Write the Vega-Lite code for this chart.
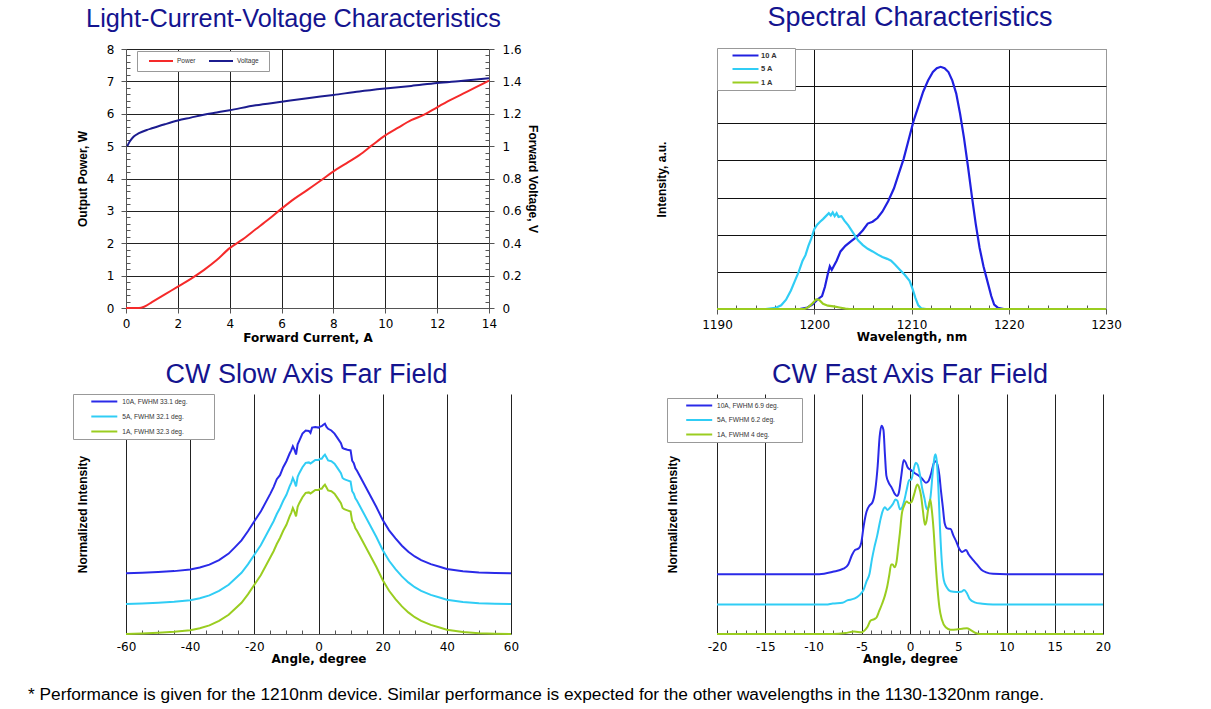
{
"$schema": "https://vega.github.io/schema/vega-lite/v6.json",
"padding": {"left": 28, "top": 3, "right": 10, "bottom": 8},
"background": "white",
"title": {"text": "* Performance is given for the 1210nm device. Similar performance is expected for the other wavelengths in the 1130-1320nm range.", "orient": "bottom", "anchor": "start", "frame": "group", "dx": -98, "offset": 22, "font": "Liberation Sans", "fontSize": 17.3, "fontWeight": "normal", "color": "#000"},
"config": {
  "view": {"stroke": null},
  "font": "Liberation Sans",
  "title": {"font": "Liberation Sans", "fontSize": 27, "fontWeight": "normal", "color": "#14148f"},
  "axis": {"labelFont": "DejaVu Sans", "labelFontSize": 12, "labelColor": "#000", "titleFont": "DejaVu Sans", "titleFontSize": 12, "titleFontWeight": "bold", "titleColor": "#000", "domainColor": "#555", "tickColor": "#555", "gridColor": "#222", "gridOpacity": 1, "gridWidth": 1, "labelFlush": false, "labelOverlap": false},
  "axisY": {"titleFont": "Liberation Sans"},
  "legend": {"title": null, "orient": "none", "fillColor": "white", "strokeColor": "#999", "labelFont": "Liberation Sans", "labelColor": "#333", "symbolType": "M-4,0H4", "symbolStrokeWidth": 2}
},
"datasets": {
  "power": [
    {"I":0,"P":0},{"I":0.5,"P":0},{"I":0.7,"P":0.04},{"I":1,"P":0.18},{"I":1.5,"P":0.42},{"I":2,"P":0.66},{"I":2.5,"P":0.9},{"I":3,"P":1.17},{"I":3.5,"P":1.48},{"I":4,"P":1.85},{"I":4.5,"P":2.12},{"I":5,"P":2.43},{"I":5.5,"P":2.74},{"I":6,"P":3.07},{"I":6.5,"P":3.38},{"I":7,"P":3.65},{"I":7.5,"P":3.93},{"I":8,"P":4.22},{"I":8.5,"P":4.47},{"I":9,"P":4.72},{"I":9.5,"P":5.03},{"I":10,"P":5.33},{"I":10.5,"P":5.57},{"I":11,"P":5.8},{"I":11.5,"P":5.97},{"I":12,"P":6.2},{"I":12.5,"P":6.42},{"I":13,"P":6.62},{"I":13.5,"P":6.82},{"I":14,"P":7.02}
  ],
  "voltage": [
    {"I":0.05,"V":1.0},{"I":0.15,"V":1.03},{"I":0.3,"V":1.06},{"I":0.5,"V":1.08},{"I":0.8,"V":1.1},{"I":1,"V":1.11},{"I":1.5,"V":1.135},{"I":2,"V":1.158},{"I":2.5,"V":1.176},{"I":3,"V":1.194},{"I":3.5,"V":1.208},{"I":4,"V":1.222},{"I":5,"V":1.252},{"I":6,"V":1.274},{"I":7,"V":1.296},{"I":8,"V":1.316},{"I":9,"V":1.338},{"I":10,"V":1.356},{"I":11,"V":1.372},{"I":12,"V":1.39},{"I":13,"V":1.404},{"I":14,"V":1.42}
  ],
  "spectrum": [
    {"w":1190,"i":0,"s":"10 A"},{"w":1198.5,"i":0,"s":"10 A"},{"w":1199.3,"i":0.04,"s":"10 A"},{"w":1199.8,"i":0.12,"s":"10 A"},{"w":1200.4,"i":0.27,"s":"10 A"},{"w":1200.8,"i":0.35,"s":"10 A"},{"w":1201.1,"i":0.6,"s":"10 A"},{"w":1201.4,"i":0.95,"s":"10 A"},{"w":1201.6,"i":1.15,"s":"10 A"},{"w":1201.8,"i":1.05,"s":"10 A"},{"w":1202.0,"i":1.15,"s":"10 A"},{"w":1202.3,"i":1.3,"s":"10 A"},{"w":1202.7,"i":1.55,"s":"10 A"},{"w":1203.2,"i":1.7,"s":"10 A"},{"w":1203.8,"i":1.83,"s":"10 A"},{"w":1204.4,"i":1.95,"s":"10 A"},{"w":1205.0,"i":2.12,"s":"10 A"},{"w":1205.5,"i":2.3,"s":"10 A"},{"w":1206.0,"i":2.35,"s":"10 A"},{"w":1206.5,"i":2.45,"s":"10 A"},{"w":1207.0,"i":2.62,"s":"10 A"},{"w":1207.6,"i":2.9,"s":"10 A"},{"w":1208.2,"i":3.25,"s":"10 A"},{"w":1208.7,"i":3.65,"s":"10 A"},{"w":1209.2,"i":4.05,"s":"10 A"},{"w":1209.7,"i":4.55,"s":"10 A"},{"w":1210.2,"i":5.05,"s":"10 A"},{"w":1210.7,"i":5.45,"s":"10 A"},{"w":1211.2,"i":5.85,"s":"10 A"},{"w":1211.7,"i":6.15,"s":"10 A"},{"w":1212.2,"i":6.38,"s":"10 A"},{"w":1212.6,"i":6.48,"s":"10 A"},{"w":1213.0,"i":6.52,"s":"10 A"},{"w":1213.4,"i":6.48,"s":"10 A"},{"w":1213.8,"i":6.38,"s":"10 A"},{"w":1214.2,"i":6.15,"s":"10 A"},{"w":1214.6,"i":5.8,"s":"10 A"},{"w":1215.0,"i":5.25,"s":"10 A"},{"w":1215.4,"i":4.6,"s":"10 A"},{"w":1215.8,"i":3.85,"s":"10 A"},{"w":1216.2,"i":3.05,"s":"10 A"},{"w":1216.6,"i":2.3,"s":"10 A"},{"w":1217.0,"i":1.65,"s":"10 A"},{"w":1217.4,"i":1.15,"s":"10 A"},{"w":1217.8,"i":0.75,"s":"10 A"},{"w":1218.2,"i":0.35,"s":"10 A"},{"w":1218.5,"i":0.12,"s":"10 A"},{"w":1218.9,"i":0.03,"s":"10 A"},{"w":1219.5,"i":0,"s":"10 A"},{"w":1230,"i":0,"s":"10 A"},
    {"w":1190,"i":0,"s":"5 A"},{"w":1195,"i":0,"s":"5 A"},{"w":1196,"i":0.03,"s":"5 A"},{"w":1196.6,"i":0.1,"s":"5 A"},{"w":1197.1,"i":0.25,"s":"5 A"},{"w":1197.6,"i":0.5,"s":"5 A"},{"w":1198.0,"i":0.75,"s":"5 A"},{"w":1198.4,"i":1.0,"s":"5 A"},{"w":1198.8,"i":1.3,"s":"5 A"},{"w":1199.1,"i":1.45,"s":"5 A"},{"w":1199.4,"i":1.7,"s":"5 A"},{"w":1199.7,"i":1.9,"s":"5 A"},{"w":1200.0,"i":2.15,"s":"5 A"},{"w":1200.3,"i":2.27,"s":"5 A"},{"w":1200.6,"i":2.35,"s":"5 A"},{"w":1200.9,"i":2.42,"s":"5 A"},{"w":1201.2,"i":2.5,"s":"5 A"},{"w":1201.5,"i":2.58,"s":"5 A"},{"w":1201.7,"i":2.52,"s":"5 A"},{"w":1201.9,"i":2.6,"s":"5 A"},{"w":1202.1,"i":2.5,"s":"5 A"},{"w":1202.3,"i":2.58,"s":"5 A"},{"w":1202.5,"i":2.48,"s":"5 A"},{"w":1202.8,"i":2.5,"s":"5 A"},{"w":1203.1,"i":2.38,"s":"5 A"},{"w":1203.5,"i":2.25,"s":"5 A"},{"w":1204.0,"i":2.05,"s":"5 A"},{"w":1204.5,"i":1.85,"s":"5 A"},{"w":1205.0,"i":1.72,"s":"5 A"},{"w":1205.5,"i":1.62,"s":"5 A"},{"w":1206.0,"i":1.55,"s":"5 A"},{"w":1206.5,"i":1.47,"s":"5 A"},{"w":1207.0,"i":1.4,"s":"5 A"},{"w":1207.5,"i":1.35,"s":"5 A"},{"w":1207.9,"i":1.3,"s":"5 A"},{"w":1208.3,"i":1.2,"s":"5 A"},{"w":1208.8,"i":1.06,"s":"5 A"},{"w":1209.3,"i":0.92,"s":"5 A"},{"w":1209.8,"i":0.76,"s":"5 A"},{"w":1210.1,"i":0.55,"s":"5 A"},{"w":1210.4,"i":0.3,"s":"5 A"},{"w":1210.7,"i":0.1,"s":"5 A"},{"w":1211.0,"i":0.02,"s":"5 A"},{"w":1211.5,"i":0,"s":"5 A"},{"w":1230,"i":0,"s":"5 A"},
    {"w":1190,"i":0,"s":"1 A"},{"w":1199,"i":0,"s":"1 A"},{"w":1199.4,"i":0.05,"s":"1 A"},{"w":1199.8,"i":0.15,"s":"1 A"},{"w":1200.2,"i":0.26,"s":"1 A"},{"w":1200.5,"i":0.25,"s":"1 A"},{"w":1200.9,"i":0.14,"s":"1 A"},{"w":1201.4,"i":0.09,"s":"1 A"},{"w":1202.0,"i":0.07,"s":"1 A"},{"w":1202.6,"i":0.04,"s":"1 A"},{"w":1203.2,"i":0.01,"s":"1 A"},{"w":1203.6,"i":0,"s":"1 A"},{"w":1230,"i":0,"s":"1 A"}
  ],
  "slow": [
    {"a":-60,"v":0.253,"s":"10A, FWHM 33.1 deg."},{"a":-55,"v":0.255,"s":"10A, FWHM 33.1 deg."},{"a":-50,"v":0.258,"s":"10A, FWHM 33.1 deg."},{"a":-45,"v":0.262,"s":"10A, FWHM 33.1 deg."},{"a":-40,"v":0.269,"s":"10A, FWHM 33.1 deg."},{"a":-37,"v":0.277,"s":"10A, FWHM 33.1 deg."},{"a":-34,"v":0.289,"s":"10A, FWHM 33.1 deg."},{"a":-31,"v":0.308,"s":"10A, FWHM 33.1 deg."},{"a":-28,"v":0.335,"s":"10A, FWHM 33.1 deg."},{"a":-26,"v":0.362,"s":"10A, FWHM 33.1 deg."},{"a":-24,"v":0.39,"s":"10A, FWHM 33.1 deg."},{"a":-22,"v":0.428,"s":"10A, FWHM 33.1 deg."},{"a":-20,"v":0.47,"s":"10A, FWHM 33.1 deg."},{"a":-18,"v":0.51,"s":"10A, FWHM 33.1 deg."},{"a":-16,"v":0.56,"s":"10A, FWHM 33.1 deg."},{"a":-15,"v":0.585,"s":"10A, FWHM 33.1 deg."},{"a":-14,"v":0.612,"s":"10A, FWHM 33.1 deg."},{"a":-13,"v":0.645,"s":"10A, FWHM 33.1 deg."},{"a":-12,"v":0.662,"s":"10A, FWHM 33.1 deg."},{"a":-11,"v":0.695,"s":"10A, FWHM 33.1 deg."},{"a":-10,"v":0.72,"s":"10A, FWHM 33.1 deg."},{"a":-9,"v":0.752,"s":"10A, FWHM 33.1 deg."},{"a":-8.5,"v":0.765,"s":"10A, FWHM 33.1 deg."},{"a":-8,"v":0.782,"s":"10A, FWHM 33.1 deg."},{"a":-7.5,"v":0.768,"s":"10A, FWHM 33.1 deg."},{"a":-7,"v":0.748,"s":"10A, FWHM 33.1 deg."},{"a":-6.5,"v":0.79,"s":"10A, FWHM 33.1 deg."},{"a":-6,"v":0.805,"s":"10A, FWHM 33.1 deg."},{"a":-5,"v":0.835,"s":"10A, FWHM 33.1 deg."},{"a":-4,"v":0.848,"s":"10A, FWHM 33.1 deg."},{"a":-3,"v":0.846,"s":"10A, FWHM 33.1 deg."},{"a":-2.5,"v":0.838,"s":"10A, FWHM 33.1 deg."},{"a":-2,"v":0.86,"s":"10A, FWHM 33.1 deg."},{"a":-1,"v":0.862,"s":"10A, FWHM 33.1 deg."},{"a":0,"v":0.86,"s":"10A, FWHM 33.1 deg."},{"a":0.5,"v":0.864,"s":"10A, FWHM 33.1 deg."},{"a":1,"v":0.866,"s":"10A, FWHM 33.1 deg."},{"a":1.5,"v":0.872,"s":"10A, FWHM 33.1 deg."},{"a":2,"v":0.876,"s":"10A, FWHM 33.1 deg."},{"a":2.5,"v":0.863,"s":"10A, FWHM 33.1 deg."},{"a":3,"v":0.855,"s":"10A, FWHM 33.1 deg."},{"a":4,"v":0.848,"s":"10A, FWHM 33.1 deg."},{"a":5,"v":0.835,"s":"10A, FWHM 33.1 deg."},{"a":6,"v":0.815,"s":"10A, FWHM 33.1 deg."},{"a":7,"v":0.795,"s":"10A, FWHM 33.1 deg."},{"a":7.5,"v":0.775,"s":"10A, FWHM 33.1 deg."},{"a":8,"v":0.772,"s":"10A, FWHM 33.1 deg."},{"a":9,"v":0.768,"s":"10A, FWHM 33.1 deg."},{"a":10,"v":0.765,"s":"10A, FWHM 33.1 deg."},{"a":10.5,"v":0.722,"s":"10A, FWHM 33.1 deg."},{"a":11,"v":0.712,"s":"10A, FWHM 33.1 deg."},{"a":11.5,"v":0.69,"s":"10A, FWHM 33.1 deg."},{"a":12,"v":0.68,"s":"10A, FWHM 33.1 deg."},{"a":13,"v":0.655,"s":"10A, FWHM 33.1 deg."},{"a":14,"v":0.63,"s":"10A, FWHM 33.1 deg."},{"a":15,"v":0.605,"s":"10A, FWHM 33.1 deg."},{"a":16,"v":0.58,"s":"10A, FWHM 33.1 deg."},{"a":18,"v":0.53,"s":"10A, FWHM 33.1 deg."},{"a":20,"v":0.476,"s":"10A, FWHM 33.1 deg."},{"a":22,"v":0.432,"s":"10A, FWHM 33.1 deg."},{"a":24,"v":0.398,"s":"10A, FWHM 33.1 deg."},{"a":26,"v":0.368,"s":"10A, FWHM 33.1 deg."},{"a":28,"v":0.343,"s":"10A, FWHM 33.1 deg."},{"a":30,"v":0.323,"s":"10A, FWHM 33.1 deg."},{"a":32,"v":0.308,"s":"10A, FWHM 33.1 deg."},{"a":35,"v":0.291,"s":"10A, FWHM 33.1 deg."},{"a":38,"v":0.279,"s":"10A, FWHM 33.1 deg."},{"a":40,"v":0.271,"s":"10A, FWHM 33.1 deg."},{"a":45,"v":0.261,"s":"10A, FWHM 33.1 deg."},{"a":50,"v":0.256,"s":"10A, FWHM 33.1 deg."},{"a":55,"v":0.254,"s":"10A, FWHM 33.1 deg."},{"a":60,"v":0.253,"s":"10A, FWHM 33.1 deg."},
    {"a":-60,"v":0.125,"s":"5A, FWHM 32.1 deg."},{"a":-55,"v":0.127,"s":"5A, FWHM 32.1 deg."},{"a":-50,"v":0.13,"s":"5A, FWHM 32.1 deg."},{"a":-45,"v":0.134,"s":"5A, FWHM 32.1 deg."},{"a":-40,"v":0.141,"s":"5A, FWHM 32.1 deg."},{"a":-37,"v":0.149,"s":"5A, FWHM 32.1 deg."},{"a":-34,"v":0.161,"s":"5A, FWHM 32.1 deg."},{"a":-31,"v":0.18,"s":"5A, FWHM 32.1 deg."},{"a":-28,"v":0.205,"s":"5A, FWHM 32.1 deg."},{"a":-26,"v":0.23,"s":"5A, FWHM 32.1 deg."},{"a":-24,"v":0.255,"s":"5A, FWHM 32.1 deg."},{"a":-22,"v":0.29,"s":"5A, FWHM 32.1 deg."},{"a":-20,"v":0.33,"s":"5A, FWHM 32.1 deg."},{"a":-18,"v":0.37,"s":"5A, FWHM 32.1 deg."},{"a":-16,"v":0.42,"s":"5A, FWHM 32.1 deg."},{"a":-15,"v":0.445,"s":"5A, FWHM 32.1 deg."},{"a":-14,"v":0.47,"s":"5A, FWHM 32.1 deg."},{"a":-13,"v":0.5,"s":"5A, FWHM 32.1 deg."},{"a":-12,"v":0.525,"s":"5A, FWHM 32.1 deg."},{"a":-11,"v":0.555,"s":"5A, FWHM 32.1 deg."},{"a":-10,"v":0.58,"s":"5A, FWHM 32.1 deg."},{"a":-9,"v":0.615,"s":"5A, FWHM 32.1 deg."},{"a":-8.5,"v":0.63,"s":"5A, FWHM 32.1 deg."},{"a":-8,"v":0.65,"s":"5A, FWHM 32.1 deg."},{"a":-7.5,"v":0.635,"s":"5A, FWHM 32.1 deg."},{"a":-7,"v":0.615,"s":"5A, FWHM 32.1 deg."},{"a":-6.5,"v":0.655,"s":"5A, FWHM 32.1 deg."},{"a":-6,"v":0.67,"s":"5A, FWHM 32.1 deg."},{"a":-5,"v":0.695,"s":"5A, FWHM 32.1 deg."},{"a":-4,"v":0.713,"s":"5A, FWHM 32.1 deg."},{"a":-3,"v":0.715,"s":"5A, FWHM 32.1 deg."},{"a":-2.5,"v":0.71,"s":"5A, FWHM 32.1 deg."},{"a":-2,"v":0.715,"s":"5A, FWHM 32.1 deg."},{"a":-1,"v":0.725,"s":"5A, FWHM 32.1 deg."},{"a":0,"v":0.725,"s":"5A, FWHM 32.1 deg."},{"a":0.5,"v":0.73,"s":"5A, FWHM 32.1 deg."},{"a":1,"v":0.73,"s":"5A, FWHM 32.1 deg."},{"a":1.5,"v":0.74,"s":"5A, FWHM 32.1 deg."},{"a":2,"v":0.747,"s":"5A, FWHM 32.1 deg."},{"a":2.5,"v":0.735,"s":"5A, FWHM 32.1 deg."},{"a":3,"v":0.723,"s":"5A, FWHM 32.1 deg."},{"a":4,"v":0.72,"s":"5A, FWHM 32.1 deg."},{"a":5,"v":0.71,"s":"5A, FWHM 32.1 deg."},{"a":6,"v":0.69,"s":"5A, FWHM 32.1 deg."},{"a":7,"v":0.67,"s":"5A, FWHM 32.1 deg."},{"a":7.5,"v":0.65,"s":"5A, FWHM 32.1 deg."},{"a":8,"v":0.645,"s":"5A, FWHM 32.1 deg."},{"a":9,"v":0.64,"s":"5A, FWHM 32.1 deg."},{"a":10,"v":0.635,"s":"5A, FWHM 32.1 deg."},{"a":10.5,"v":0.595,"s":"5A, FWHM 32.1 deg."},{"a":11,"v":0.585,"s":"5A, FWHM 32.1 deg."},{"a":11.5,"v":0.565,"s":"5A, FWHM 32.1 deg."},{"a":12,"v":0.555,"s":"5A, FWHM 32.1 deg."},{"a":13,"v":0.53,"s":"5A, FWHM 32.1 deg."},{"a":14,"v":0.505,"s":"5A, FWHM 32.1 deg."},{"a":15,"v":0.48,"s":"5A, FWHM 32.1 deg."},{"a":16,"v":0.455,"s":"5A, FWHM 32.1 deg."},{"a":18,"v":0.405,"s":"5A, FWHM 32.1 deg."},{"a":20,"v":0.35,"s":"5A, FWHM 32.1 deg."},{"a":22,"v":0.305,"s":"5A, FWHM 32.1 deg."},{"a":24,"v":0.27,"s":"5A, FWHM 32.1 deg."},{"a":26,"v":0.24,"s":"5A, FWHM 32.1 deg."},{"a":28,"v":0.215,"s":"5A, FWHM 32.1 deg."},{"a":30,"v":0.195,"s":"5A, FWHM 32.1 deg."},{"a":32,"v":0.18,"s":"5A, FWHM 32.1 deg."},{"a":35,"v":0.163,"s":"5A, FWHM 32.1 deg."},{"a":38,"v":0.151,"s":"5A, FWHM 32.1 deg."},{"a":40,"v":0.143,"s":"5A, FWHM 32.1 deg."},{"a":45,"v":0.133,"s":"5A, FWHM 32.1 deg."},{"a":50,"v":0.128,"s":"5A, FWHM 32.1 deg."},{"a":55,"v":0.126,"s":"5A, FWHM 32.1 deg."},{"a":60,"v":0.125,"s":"5A, FWHM 32.1 deg."},
    {"a":-60,"v":0,"s":"1A, FWHM 32.3 deg."},{"a":-55,"v":0.002,"s":"1A, FWHM 32.3 deg."},{"a":-50,"v":0.005,"s":"1A, FWHM 32.3 deg."},{"a":-45,"v":0.009,"s":"1A, FWHM 32.3 deg."},{"a":-40,"v":0.016,"s":"1A, FWHM 32.3 deg."},{"a":-37,"v":0.024,"s":"1A, FWHM 32.3 deg."},{"a":-34,"v":0.036,"s":"1A, FWHM 32.3 deg."},{"a":-31,"v":0.055,"s":"1A, FWHM 32.3 deg."},{"a":-28,"v":0.08,"s":"1A, FWHM 32.3 deg."},{"a":-26,"v":0.105,"s":"1A, FWHM 32.3 deg."},{"a":-24,"v":0.13,"s":"1A, FWHM 32.3 deg."},{"a":-22,"v":0.165,"s":"1A, FWHM 32.3 deg."},{"a":-20,"v":0.205,"s":"1A, FWHM 32.3 deg."},{"a":-18,"v":0.245,"s":"1A, FWHM 32.3 deg."},{"a":-16,"v":0.295,"s":"1A, FWHM 32.3 deg."},{"a":-15,"v":0.32,"s":"1A, FWHM 32.3 deg."},{"a":-14,"v":0.345,"s":"1A, FWHM 32.3 deg."},{"a":-13,"v":0.375,"s":"1A, FWHM 32.3 deg."},{"a":-12,"v":0.4,"s":"1A, FWHM 32.3 deg."},{"a":-11,"v":0.43,"s":"1A, FWHM 32.3 deg."},{"a":-10,"v":0.455,"s":"1A, FWHM 32.3 deg."},{"a":-9,"v":0.49,"s":"1A, FWHM 32.3 deg."},{"a":-8.5,"v":0.505,"s":"1A, FWHM 32.3 deg."},{"a":-8,"v":0.525,"s":"1A, FWHM 32.3 deg."},{"a":-7.5,"v":0.51,"s":"1A, FWHM 32.3 deg."},{"a":-7,"v":0.49,"s":"1A, FWHM 32.3 deg."},{"a":-6.5,"v":0.53,"s":"1A, FWHM 32.3 deg."},{"a":-6,"v":0.545,"s":"1A, FWHM 32.3 deg."},{"a":-5,"v":0.57,"s":"1A, FWHM 32.3 deg."},{"a":-4,"v":0.588,"s":"1A, FWHM 32.3 deg."},{"a":-3,"v":0.59,"s":"1A, FWHM 32.3 deg."},{"a":-2.5,"v":0.585,"s":"1A, FWHM 32.3 deg."},{"a":-2,"v":0.59,"s":"1A, FWHM 32.3 deg."},{"a":-1,"v":0.6,"s":"1A, FWHM 32.3 deg."},{"a":0,"v":0.6,"s":"1A, FWHM 32.3 deg."},{"a":0.5,"v":0.605,"s":"1A, FWHM 32.3 deg."},{"a":1,"v":0.605,"s":"1A, FWHM 32.3 deg."},{"a":1.5,"v":0.615,"s":"1A, FWHM 32.3 deg."},{"a":2,"v":0.622,"s":"1A, FWHM 32.3 deg."},{"a":2.5,"v":0.61,"s":"1A, FWHM 32.3 deg."},{"a":3,"v":0.598,"s":"1A, FWHM 32.3 deg."},{"a":4,"v":0.595,"s":"1A, FWHM 32.3 deg."},{"a":5,"v":0.585,"s":"1A, FWHM 32.3 deg."},{"a":6,"v":0.565,"s":"1A, FWHM 32.3 deg."},{"a":7,"v":0.545,"s":"1A, FWHM 32.3 deg."},{"a":7.5,"v":0.525,"s":"1A, FWHM 32.3 deg."},{"a":8,"v":0.52,"s":"1A, FWHM 32.3 deg."},{"a":9,"v":0.515,"s":"1A, FWHM 32.3 deg."},{"a":10,"v":0.51,"s":"1A, FWHM 32.3 deg."},{"a":10.5,"v":0.47,"s":"1A, FWHM 32.3 deg."},{"a":11,"v":0.46,"s":"1A, FWHM 32.3 deg."},{"a":11.5,"v":0.44,"s":"1A, FWHM 32.3 deg."},{"a":12,"v":0.43,"s":"1A, FWHM 32.3 deg."},{"a":13,"v":0.405,"s":"1A, FWHM 32.3 deg."},{"a":14,"v":0.38,"s":"1A, FWHM 32.3 deg."},{"a":15,"v":0.355,"s":"1A, FWHM 32.3 deg."},{"a":16,"v":0.33,"s":"1A, FWHM 32.3 deg."},{"a":18,"v":0.28,"s":"1A, FWHM 32.3 deg."},{"a":20,"v":0.225,"s":"1A, FWHM 32.3 deg."},{"a":22,"v":0.18,"s":"1A, FWHM 32.3 deg."},{"a":24,"v":0.145,"s":"1A, FWHM 32.3 deg."},{"a":26,"v":0.115,"s":"1A, FWHM 32.3 deg."},{"a":28,"v":0.09,"s":"1A, FWHM 32.3 deg."},{"a":30,"v":0.07,"s":"1A, FWHM 32.3 deg."},{"a":32,"v":0.055,"s":"1A, FWHM 32.3 deg."},{"a":35,"v":0.038,"s":"1A, FWHM 32.3 deg."},{"a":38,"v":0.026,"s":"1A, FWHM 32.3 deg."},{"a":40,"v":0.018,"s":"1A, FWHM 32.3 deg."},{"a":45,"v":0.008,"s":"1A, FWHM 32.3 deg."},{"a":50,"v":0.003,"s":"1A, FWHM 32.3 deg."},{"a":55,"v":0.001,"s":"1A, FWHM 32.3 deg."},{"a":60,"v":0,"s":"1A, FWHM 32.3 deg."}
  ],
  "fast": [
    {"a":-20,"v":0.249,"s":"10A, FWHM 6.9 deg."},{"a":-9.4,"v":0.249,"s":"10A, FWHM 6.9 deg."},{"a":-8,"v":0.259,"s":"10A, FWHM 6.9 deg."},{"a":-6.9,"v":0.272,"s":"10A, FWHM 6.9 deg."},{"a":-6.4,"v":0.29,"s":"10A, FWHM 6.9 deg."},{"a":-6.0,"v":0.33,"s":"10A, FWHM 6.9 deg."},{"a":-5.7,"v":0.35,"s":"10A, FWHM 6.9 deg."},{"a":-5.3,"v":0.357,"s":"10A, FWHM 6.9 deg."},{"a":-5.05,"v":0.38,"s":"10A, FWHM 6.9 deg."},{"a":-4.8,"v":0.45,"s":"10A, FWHM 6.9 deg."},{"a":-4.5,"v":0.51,"s":"10A, FWHM 6.9 deg."},{"a":-4.2,"v":0.535,"s":"10A, FWHM 6.9 deg."},{"a":-3.9,"v":0.548,"s":"10A, FWHM 6.9 deg."},{"a":-3.6,"v":0.6,"s":"10A, FWHM 6.9 deg."},{"a":-3.35,"v":0.7,"s":"10A, FWHM 6.9 deg."},{"a":-3.15,"v":0.82,"s":"10A, FWHM 6.9 deg."},{"a":-2.95,"v":0.868,"s":"10A, FWHM 6.9 deg."},{"a":-2.75,"v":0.85,"s":"10A, FWHM 6.9 deg."},{"a":-2.6,"v":0.75,"s":"10A, FWHM 6.9 deg."},{"a":-2.45,"v":0.66,"s":"10A, FWHM 6.9 deg."},{"a":-2.2,"v":0.63,"s":"10A, FWHM 6.9 deg."},{"a":-1.9,"v":0.61,"s":"10A, FWHM 6.9 deg."},{"a":-1.6,"v":0.585,"s":"10A, FWHM 6.9 deg."},{"a":-1.35,"v":0.575,"s":"10A, FWHM 6.9 deg."},{"a":-1.15,"v":0.59,"s":"10A, FWHM 6.9 deg."},{"a":-0.9,"v":0.66,"s":"10A, FWHM 6.9 deg."},{"a":-0.65,"v":0.725,"s":"10A, FWHM 6.9 deg."},{"a":-0.45,"v":0.715,"s":"10A, FWHM 6.9 deg."},{"a":-0.25,"v":0.695,"s":"10A, FWHM 6.9 deg."},{"a":0.1,"v":0.683,"s":"10A, FWHM 6.9 deg."},{"a":0.5,"v":0.67,"s":"10A, FWHM 6.9 deg."},{"a":0.95,"v":0.658,"s":"10A, FWHM 6.9 deg."},{"a":1.3,"v":0.645,"s":"10A, FWHM 6.9 deg."},{"a":1.65,"v":0.63,"s":"10A, FWHM 6.9 deg."},{"a":1.95,"v":0.64,"s":"10A, FWHM 6.9 deg."},{"a":2.2,"v":0.67,"s":"10A, FWHM 6.9 deg."},{"a":2.45,"v":0.71,"s":"10A, FWHM 6.9 deg."},{"a":2.65,"v":0.72,"s":"10A, FWHM 6.9 deg."},{"a":2.85,"v":0.705,"s":"10A, FWHM 6.9 deg."},{"a":3.05,"v":0.66,"s":"10A, FWHM 6.9 deg."},{"a":3.2,"v":0.6,"s":"10A, FWHM 6.9 deg."},{"a":3.4,"v":0.53,"s":"10A, FWHM 6.9 deg."},{"a":3.6,"v":0.46,"s":"10A, FWHM 6.9 deg."},{"a":3.85,"v":0.44,"s":"10A, FWHM 6.9 deg."},{"a":4.2,"v":0.438,"s":"10A, FWHM 6.9 deg."},{"a":4.5,"v":0.41,"s":"10A, FWHM 6.9 deg."},{"a":4.8,"v":0.385,"s":"10A, FWHM 6.9 deg."},{"a":5.1,"v":0.355,"s":"10A, FWHM 6.9 deg."},{"a":5.4,"v":0.342,"s":"10A, FWHM 6.9 deg."},{"a":5.8,"v":0.35,"s":"10A, FWHM 6.9 deg."},{"a":6.1,"v":0.33,"s":"10A, FWHM 6.9 deg."},{"a":6.5,"v":0.31,"s":"10A, FWHM 6.9 deg."},{"a":7.0,"v":0.287,"s":"10A, FWHM 6.9 deg."},{"a":7.4,"v":0.268,"s":"10A, FWHM 6.9 deg."},{"a":7.9,"v":0.257,"s":"10A, FWHM 6.9 deg."},{"a":8.6,"v":0.251,"s":"10A, FWHM 6.9 deg."},{"a":10,"v":0.249,"s":"10A, FWHM 6.9 deg."},{"a":20,"v":0.249,"s":"10A, FWHM 6.9 deg."},
    {"a":-20,"v":0.123,"s":"5A, FWHM 6.2 deg."},{"a":-8.7,"v":0.123,"s":"5A, FWHM 6.2 deg."},{"a":-8,"v":0.127,"s":"5A, FWHM 6.2 deg."},{"a":-7,"v":0.13,"s":"5A, FWHM 6.2 deg."},{"a":-6.5,"v":0.14,"s":"5A, FWHM 6.2 deg."},{"a":-5.8,"v":0.147,"s":"5A, FWHM 6.2 deg."},{"a":-5.2,"v":0.163,"s":"5A, FWHM 6.2 deg."},{"a":-4.8,"v":0.185,"s":"5A, FWHM 6.2 deg."},{"a":-4.5,"v":0.22,"s":"5A, FWHM 6.2 deg."},{"a":-4.2,"v":0.25,"s":"5A, FWHM 6.2 deg."},{"a":-3.95,"v":0.31,"s":"5A, FWHM 6.2 deg."},{"a":-3.7,"v":0.36,"s":"5A, FWHM 6.2 deg."},{"a":-3.4,"v":0.41,"s":"5A, FWHM 6.2 deg."},{"a":-3.1,"v":0.47,"s":"5A, FWHM 6.2 deg."},{"a":-2.85,"v":0.51,"s":"5A, FWHM 6.2 deg."},{"a":-2.6,"v":0.528,"s":"5A, FWHM 6.2 deg."},{"a":-2.35,"v":0.517,"s":"5A, FWHM 6.2 deg."},{"a":-2.1,"v":0.525,"s":"5A, FWHM 6.2 deg."},{"a":-1.8,"v":0.54,"s":"5A, FWHM 6.2 deg."},{"a":-1.5,"v":0.56,"s":"5A, FWHM 6.2 deg."},{"a":-1.3,"v":0.555,"s":"5A, FWHM 6.2 deg."},{"a":-1.05,"v":0.52,"s":"5A, FWHM 6.2 deg."},{"a":-0.85,"v":0.525,"s":"5A, FWHM 6.2 deg."},{"a":-0.6,"v":0.555,"s":"5A, FWHM 6.2 deg."},{"a":-0.35,"v":0.6,"s":"5A, FWHM 6.2 deg."},{"a":-0.1,"v":0.64,"s":"5A, FWHM 6.2 deg."},{"a":0.15,"v":0.645,"s":"5A, FWHM 6.2 deg."},{"a":0.35,"v":0.68,"s":"5A, FWHM 6.2 deg."},{"a":0.6,"v":0.714,"s":"5A, FWHM 6.2 deg."},{"a":0.8,"v":0.705,"s":"5A, FWHM 6.2 deg."},{"a":1.0,"v":0.67,"s":"5A, FWHM 6.2 deg."},{"a":1.25,"v":0.61,"s":"5A, FWHM 6.2 deg."},{"a":1.5,"v":0.565,"s":"5A, FWHM 6.2 deg."},{"a":1.75,"v":0.52,"s":"5A, FWHM 6.2 deg."},{"a":1.95,"v":0.53,"s":"5A, FWHM 6.2 deg."},{"a":2.15,"v":0.58,"s":"5A, FWHM 6.2 deg."},{"a":2.35,"v":0.67,"s":"5A, FWHM 6.2 deg."},{"a":2.55,"v":0.74,"s":"5A, FWHM 6.2 deg."},{"a":2.65,"v":0.749,"s":"5A, FWHM 6.2 deg."},{"a":2.8,"v":0.71,"s":"5A, FWHM 6.2 deg."},{"a":2.95,"v":0.6,"s":"5A, FWHM 6.2 deg."},{"a":3.1,"v":0.45,"s":"5A, FWHM 6.2 deg."},{"a":3.3,"v":0.3,"s":"5A, FWHM 6.2 deg."},{"a":3.5,"v":0.225,"s":"5A, FWHM 6.2 deg."},{"a":3.8,"v":0.195,"s":"5A, FWHM 6.2 deg."},{"a":4.2,"v":0.178,"s":"5A, FWHM 6.2 deg."},{"a":4.8,"v":0.175,"s":"5A, FWHM 6.2 deg."},{"a":5.3,"v":0.176,"s":"5A, FWHM 6.2 deg."},{"a":5.6,"v":0.183,"s":"5A, FWHM 6.2 deg."},{"a":5.9,"v":0.17,"s":"5A, FWHM 6.2 deg."},{"a":6.2,"v":0.145,"s":"5A, FWHM 6.2 deg."},{"a":6.7,"v":0.132,"s":"5A, FWHM 6.2 deg."},{"a":7.5,"v":0.126,"s":"5A, FWHM 6.2 deg."},{"a":8.6,"v":0.123,"s":"5A, FWHM 6.2 deg."},{"a":20,"v":0.123,"s":"5A, FWHM 6.2 deg."},
    {"a":-20,"v":0,"s":"1A, FWHM 4 deg."},{"a":-8,"v":0,"s":"1A, FWHM 4 deg."},{"a":-6.7,"v":0.004,"s":"1A, FWHM 4 deg."},{"a":-5.8,"v":0.01,"s":"1A, FWHM 4 deg."},{"a":-5.0,"v":0.007,"s":"1A, FWHM 4 deg."},{"a":-4.7,"v":0.015,"s":"1A, FWHM 4 deg."},{"a":-4.4,"v":0.03,"s":"1A, FWHM 4 deg."},{"a":-4.1,"v":0.055,"s":"1A, FWHM 4 deg."},{"a":-3.7,"v":0.062,"s":"1A, FWHM 4 deg."},{"a":-3.45,"v":0.07,"s":"1A, FWHM 4 deg."},{"a":-3.2,"v":0.095,"s":"1A, FWHM 4 deg."},{"a":-2.9,"v":0.125,"s":"1A, FWHM 4 deg."},{"a":-2.6,"v":0.16,"s":"1A, FWHM 4 deg."},{"a":-2.35,"v":0.2,"s":"1A, FWHM 4 deg."},{"a":-2.15,"v":0.245,"s":"1A, FWHM 4 deg."},{"a":-1.95,"v":0.29,"s":"1A, FWHM 4 deg."},{"a":-1.8,"v":0.29,"s":"1A, FWHM 4 deg."},{"a":-1.6,"v":0.278,"s":"1A, FWHM 4 deg."},{"a":-1.4,"v":0.3,"s":"1A, FWHM 4 deg."},{"a":-1.25,"v":0.35,"s":"1A, FWHM 4 deg."},{"a":-1.05,"v":0.42,"s":"1A, FWHM 4 deg."},{"a":-0.85,"v":0.5,"s":"1A, FWHM 4 deg."},{"a":-0.6,"v":0.535,"s":"1A, FWHM 4 deg."},{"a":-0.35,"v":0.552,"s":"1A, FWHM 4 deg."},{"a":-0.1,"v":0.545,"s":"1A, FWHM 4 deg."},{"a":0.15,"v":0.55,"s":"1A, FWHM 4 deg."},{"a":0.45,"v":0.585,"s":"1A, FWHM 4 deg."},{"a":0.75,"v":0.623,"s":"1A, FWHM 4 deg."},{"a":0.95,"v":0.61,"s":"1A, FWHM 4 deg."},{"a":1.15,"v":0.575,"s":"1A, FWHM 4 deg."},{"a":1.35,"v":0.51,"s":"1A, FWHM 4 deg."},{"a":1.55,"v":0.455,"s":"1A, FWHM 4 deg."},{"a":1.7,"v":0.47,"s":"1A, FWHM 4 deg."},{"a":1.9,"v":0.525,"s":"1A, FWHM 4 deg."},{"a":2.1,"v":0.56,"s":"1A, FWHM 4 deg."},{"a":2.25,"v":0.52,"s":"1A, FWHM 4 deg."},{"a":2.45,"v":0.43,"s":"1A, FWHM 4 deg."},{"a":2.65,"v":0.3,"s":"1A, FWHM 4 deg."},{"a":2.85,"v":0.19,"s":"1A, FWHM 4 deg."},{"a":3.05,"v":0.11,"s":"1A, FWHM 4 deg."},{"a":3.3,"v":0.06,"s":"1A, FWHM 4 deg."},{"a":3.7,"v":0.028,"s":"1A, FWHM 4 deg."},{"a":4.2,"v":0.018,"s":"1A, FWHM 4 deg."},{"a":4.8,"v":0.019,"s":"1A, FWHM 4 deg."},{"a":5.4,"v":0.022,"s":"1A, FWHM 4 deg."},{"a":5.9,"v":0.024,"s":"1A, FWHM 4 deg."},{"a":6.3,"v":0.016,"s":"1A, FWHM 4 deg."},{"a":6.8,"v":0.004,"s":"1A, FWHM 4 deg."},{"a":7.3,"v":0,"s":"1A, FWHM 4 deg."},{"a":20,"v":0,"s":"1A, FWHM 4 deg."}
  ]
},
"columns": 2,
"align": "each",
"spacing": {"row": 85, "column": 206},
"bounds": "flush",
"resolve": {"scale": {"color": "independent"}, "legend": {"color": "independent"}},
"concat": [
      {
        "width": 363, "height": 259,
        "title": {"text": "Light-Current-Voltage Characteristics", "dx": -14, "offset": 10.5, "fontSize": 25.3},
        "layer": [
          {
            "data": {"name": "power"},
            "mark": {"type": "line", "strokeWidth": 2, "interpolate": "monotone"},
            "encoding": {
              "x": {"field": "I", "type": "quantitative", "scale": {"domain": [0, 14], "nice": false}, "axis": {"title": "Forward Current, A", "values": [0,0.5,1,1.5,2,2.5,3,3.5,4,4.5,5,5.5,6,6.5,7,7.5,8,8.5,9,9.5,10,10.5,11,11.5,12,12.5,13,13.5,14], "labelExpr": "datum.value % 2 == 0 ? '' + datum.value : ''", "grid": true, "gridOpacity": {"condition": {"test": "datum.value % 2 != 0", "value": 0}, "value": 1}, "tickSize": {"condition": {"test": "datum.value % 2 != 0", "value": -4}, "value": 5}, "labelPadding": 5, "titlePadding": 3}},
              "y": {"field": "P", "type": "quantitative", "scale": {"domain": [0, 8], "nice": false}, "axis": {"title": "Output Power, W", "values": [0,0.2,0.4,0.6,0.8,1,1.2,1.4,1.6,1.8,2,2.2,2.4,2.6,2.8,3,3.2,3.4,3.6,3.8,4,4.2,4.4,4.6,4.8,5,5.2,5.4,5.6,5.8,6,6.2,6.4,6.6,6.8,7,7.2,7.4,7.6,7.8,8], "labelExpr": "abs(datum.value - round(datum.value)) < 0.001 ? '' + datum.value : ''", "grid": true, "gridOpacity": {"condition": {"test": "abs(datum.value - round(datum.value)) > 0.001", "value": 0}, "value": 1}, "tickSize": {"condition": {"test": "abs(datum.value - round(datum.value)) > 0.001", "value": -4}, "value": 5}, "labelPadding": 7, "titlePadding": 17}},
              "color": {"datum": "Power", "type": "nominal", "scale": {"domain": ["Power", "Voltage"], "range": ["#f52a2a", "#1c1c8f"]},
                "legend": {"legendX": 11, "legendY": 2, "direction": "horizontal", "symbolSize": 36, "labelFontSize": 6.5, "labelOffset": 12, "symbolOffset": 14, "columnPadding": 7, "padding": 6, "labelExpr": "datum.label == 'Voltage' ? datum.label + '\u00a0\u00a0\u200b' : datum.label"}}
            }
          },
          {
            "data": {"name": "voltage"},
            "mark": {"type": "line", "strokeWidth": 2, "interpolate": "monotone"},
            "encoding": {
              "x": {"field": "I", "type": "quantitative"},
              "y": {"field": "V", "type": "quantitative", "scale": {"domain": [0, 1.6], "nice": false}, "axis": {"orient": "right", "title": "Forward Voltage, V", "values": [0,0.04,0.08,0.12,0.16,0.2,0.24,0.28,0.32,0.36,0.4,0.44,0.48,0.52,0.56,0.6,0.64,0.68,0.72,0.76,0.8,0.84,0.88,0.92,0.96,1,1.04,1.08,1.12,1.16,1.2,1.24,1.28,1.32,1.36,1.4,1.44,1.48,1.52,1.56,1.6], "labelExpr": "abs(datum.value*5 - round(datum.value*5)) < 0.001 ? '' + datum.value : ''", "grid": false, "tickSize": {"condition": {"test": "abs(datum.value*5 - round(datum.value*5)) > 0.001", "value": -4}, "value": 5}, "labelPadding": 8, "titlePadding": 4}},
              "color": {"datum": "Voltage", "type": "nominal"}
            }
          }
        ],
        "resolve": {"scale": {"y": "independent"}}
      },
      {
        "width": 389, "height": 260,
        "view": {"stroke": "#888"},
        "title": {"text": "Spectral Characteristics", "dx": -1.5, "offset": 15.5},
        "data": {"name": "spectrum"},
        "mark": {"type": "line", "strokeWidth": 2.2},
        "encoding": {
          "x": {"field": "w", "type": "quantitative", "scale": {"domain": [1190, 1230], "nice": false}, "axis": {"title": "Wavelength, nm", "values": [1190,1192,1194,1196,1198,1200,1202,1204,1206,1208,1210,1212,1214,1216,1218,1220,1222,1224,1226,1228,1230], "labelExpr": "datum.value % 10 == 0 ? '' + datum.value : ''", "grid": true, "gridColor": {"condition": {"test": "datum.value == 1190 || datum.value == 1230", "value": "#999"}, "value": "#111"}, "gridOpacity": {"condition": {"test": "datum.value % 10 != 0", "value": 0}, "value": 1}, "tickSize": {"condition": {"test": "datum.value % 10 != 0", "value": -4}, "value": 5}, "labelPadding": 5, "titlePadding": 1}},
          "y": {"field": "i", "type": "quantitative", "scale": {"domain": [0, 7], "nice": false}, "axis": {"title": "Intensity, a.u.", "values": [0, 1, 2, 3, 4, 5, 6, 7], "labels": false, "ticks": false, "grid": true, "gridColor": {"condition": {"test": "datum.value == 0 || datum.value == 7", "value": "#999"}, "value": "#111"}, "titlePadding": 49}},
          "color": {"field": "s", "type": "nominal", "sort": null, "scale": {"domain": ["10 A", "5 A", "1 A"], "range": ["#2020e0", "#30cdf5", "#9acd20"]},
            "legend": {"legendX": 0, "legendY": -1, "symbolSize": 42.25, "labelFontSize": 7.5, "labelFontWeight": "bold", "labelOffset": 11, "symbolOffset": 21, "rowPadding": 4.5, "padding": 3, "labelExpr": "datum.label + '\u00a0\u00a0\u00a0\u00a0\u00a0\u00a0\u00a0\u200b'"}}
        }
      },
      {
        "width": 385, "height": 240,
        "title": {"text": "CW Slow Axis Far Field", "dx": -12, "offset": 5},
        "data": {"name": "slow"},
        "mark": {"type": "line", "strokeWidth": 2},
        "encoding": {
          "x": {"field": "a", "type": "quantitative", "scale": {"domain": [-60, 60], "nice": false}, "axis": {"title": "Angle, degree", "values": [-60,-55,-50,-45,-40,-35,-30,-25,-20,-15,-10,-5,0,5,10,15,20,25,30,35,40,45,50,55,60], "labelExpr": "datum.value % 20 == 0 ? '' + datum.value : ''", "grid": true, "gridOpacity": {"condition": {"test": "datum.value % 20 != 0", "value": 0}, "value": 1}, "tickSize": {"condition": {"test": "datum.value % 20 != 0", "value": -4}, "value": 0}, "labelPadding": 7, "titlePadding": 1}},
          "y": {"field": "v", "type": "quantitative", "scale": {"domain": [0, 1], "nice": false}, "axis": {"title": "Normalized Intensity", "labels": false, "ticks": false, "grid": false, "domain": false, "titlePadding": 37}},
          "color": {"field": "s", "type": "nominal", "sort": null, "scale": {"domain": ["10A, FWHM 33.1 deg.", "5A, FWHM 32.1 deg.", "1A, FWHM 32.3 deg."], "range": ["#2a2ae8", "#30cdf5", "#9acd20"]},
            "legend": {"legendX": -53, "legendY": 0, "symbolSize": 42.25, "labelFontSize": 6.6, "labelOffset": 13.5, "symbolOffset": 23.8, "rowPadding": 6, "padding": 3, "labelExpr": "datum.label + '\u00a0\u00a0\u00a0\u00a0\u00a0\u00a0\u00a0\u00a0\u00a0\u00a0\u2800'"}}
        }
      },
      {
        "width": 386, "height": 240,
        "title": {"text": "CW Fast Axis Far Field", "dx": 0, "offset": 5},
        "data": {"name": "fast"},
        "mark": {"type": "line", "strokeWidth": 2, "interpolate": "monotone"},
        "encoding": {
          "x": {"field": "a", "type": "quantitative", "scale": {"domain": [-20, 20], "nice": false}, "axis": {"title": "Angle, degree", "values": [-20,-19,-18,-17,-16,-15,-14,-13,-12,-11,-10,-9,-8,-7,-6,-5,-4,-3,-2,-1,0,1,2,3,4,5,6,7,8,9,10,11,12,13,14,15,16,17,18,19,20], "labelExpr": "datum.value % 5 == 0 ? '' + datum.value : ''", "grid": true, "gridOpacity": {"condition": {"test": "datum.value % 5 != 0", "value": 0}, "value": 1}, "tickSize": {"condition": {"test": "datum.value % 5 != 0", "value": -4}, "value": 0}, "labelPadding": 7, "titlePadding": 1}},
          "y": {"field": "v", "type": "quantitative", "scale": {"domain": [0, 1], "nice": false}, "axis": {"title": "Normalized Intensity", "labels": false, "ticks": false, "grid": false, "domain": false, "titlePadding": 38}},
          "color": {"field": "s", "type": "nominal", "sort": null, "scale": {"domain": ["10A, FWHM 6.9 deg.", "5A, FWHM 6.2 deg.", "1A, FWHM 4 deg."], "range": ["#2a2ae8", "#30cdf5", "#9acd20"]},
            "legend": {"legendX": -50, "legendY": 4, "symbolSize": 42.25, "labelFontSize": 6.6, "labelOffset": 13.3, "symbolOffset": 24.7, "rowPadding": 5.5, "padding": 3, "labelExpr": "datum.label + '\u00a0\u00a0\u00a0\u00a0\u00a0\u00a0\u00a0\u00a0\u2800'"}}
        }
      }
]
}
